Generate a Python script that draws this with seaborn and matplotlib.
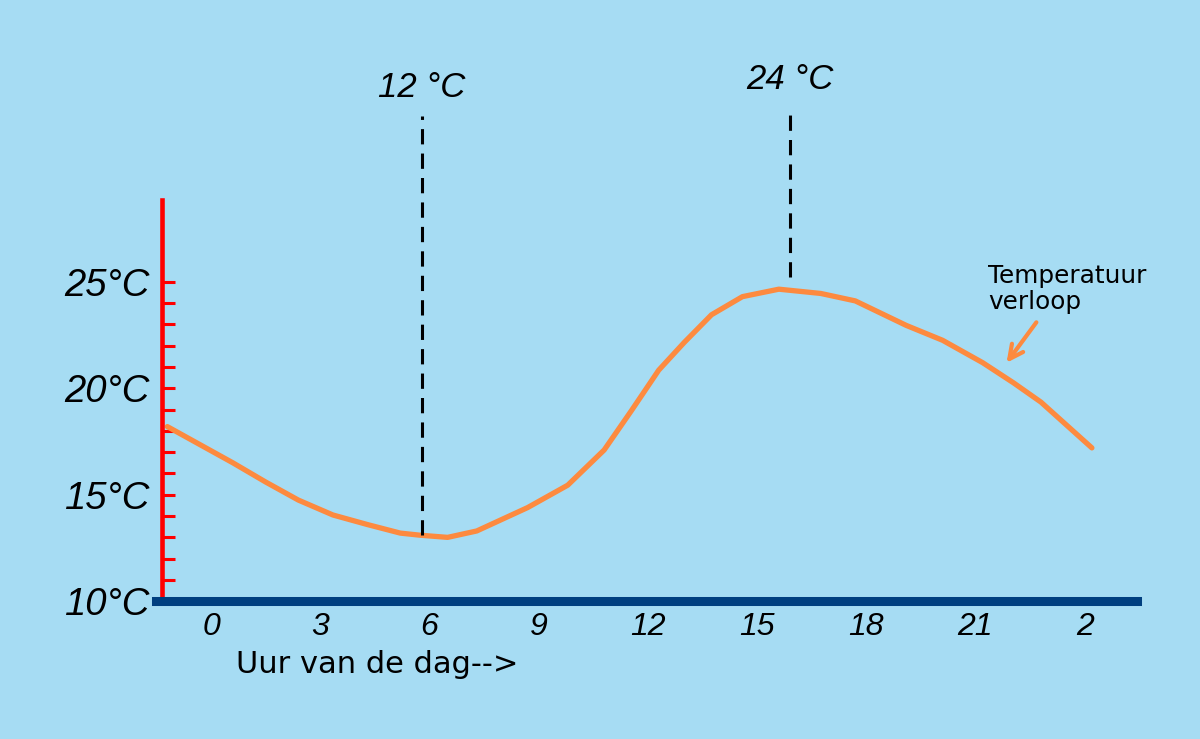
import matplotlib
matplotlib.use("Agg")
import matplotlib.pyplot as plt
import seaborn as sns

# hand drawn temperature curve (hour of day, degrees C)
hours = [-1.2, -0.3, 0.6, 1.5, 2.4, 3.35, 4.3, 5.2, 5.75, 6.5, 7.3, 8.7, 9.8,
         10.8, 11.55, 12.3, 13.0, 13.75, 14.6, 15.6, 16.75, 17.7, 19.1,
         20.1, 21.2, 22.05, 22.8, 24.2]
temps = [18.2, 17.35, 16.5, 15.6, 14.75, 14.05, 13.6, 13.2, 13.1, 13.0, 13.3, 14.4, 15.45,
         17.1, 18.95, 20.85, 22.15, 23.45, 24.3, 24.65, 24.45, 24.1, 22.95,
         22.25, 21.2, 20.25, 19.35, 17.2]

x_ticks = [0, 3, 6, 9, 12, 15, 18, 21, 24]
x_labels = ["0", "3", "6", "9", "12", "15", "18", "21", "2"]
y_ticks = [10, 15, 20, 25]
y_labels = ["10°C", "15°C", "20°C", "25°C"]
y_minor = list(range(11, 26))

# dashed marker lines: hour, bottom, top, label
dash_hours = [5.8, 15.9]
dash_bottoms = [13.1, 25.2]
dash_tops = [32.8, 33.2]
dash_labels = ["12 °C", "24 °C"]

bg = "#a6dcf3"
orange = "#fd8a3f"
navy = "#003f7f"

sns.set_style("white")
plt.rcParams['font.family'] = ['Liberation Sans', 'DejaVu Sans']
plt.rcParams['text.color'] = 'black'
plt.rcParams['xtick.color'] = 'black'
plt.rcParams['ytick.color'] = 'black'

fig = plt.figure(figsize=(12, 7.39), dpi=100)
fig.patch.set_facecolor(bg)
ax = fig.add_axes([0, 0, 1, 1])
ax.set_facecolor(bg)
ax.set_xlim(-5.797, 27.17)
ax.set_ylim(3.535, 38.225)

sns.lineplot(x=hours, y=temps, color=orange, lw=3.8, sort=False, ax=ax,
             solid_capstyle="round", solid_joinstyle="round")

ax.vlines(dash_hours, dash_bottoms, dash_tops, colors="black",
          linestyles=(0, (5, 3)), lw=2.2)
for h, top, lab in zip(dash_hours, dash_tops, dash_labels):
    ax.annotate(lab, (h, top), xytext=(0, 8), textcoords="offset points",
                ha="center", va="bottom", fontsize=25, fontstyle="italic")

# axes drawn like the hand made ones
for side in ["top", "right"]:
    ax.spines[side].set_visible(False)
ax.spines["left"].set_position(("data", -1.35))
ax.spines["left"].set_bounds(10, 28.85)
ax.spines["left"].set_color("red")
ax.spines["left"].set_linewidth(3.3)
ax.spines["bottom"].set_position(("data", 10))
ax.spines["bottom"].set_bounds(-1.51, 25.44)
ax.spines["bottom"].set_color(navy)
ax.spines["bottom"].set_linewidth(6.5)

ax.set_xticks(x_ticks, x_labels, fontstyle="italic")
ax.set_yticks(y_ticks, y_labels, fontstyle="italic")
ax.set_yticks(y_minor, minor=True)
ax.yaxis.remove_overlapping_locs = False
ax.tick_params(axis="y", which="major", left=True, length=0, pad=9, labelsize=27.5)
ax.tick_params(axis="y", which="minor", left=True, length=9, width=2.2, color="red",
               direction="in")
ax.tick_params(axis="x", which="major", bottom=True, length=0, pad=8, labelsize=23)

ax.text(0.69, 6.63, "Uur van de dag-->", fontsize=22, family="DejaVu Sans",
        ha="left", va="baseline")

ax.text(21.35, 25.83, "Temperatuur\nverloop", fontsize=17.8, family="DejaVu Sans",
        ha="left", va="top", linespacing=1.1)
ax.annotate("", xy=(21.81, 21.09), xytext=(22.72, 23.2),
            arrowprops=dict(arrowstyle="->", color=orange, lw=3, mutation_scale=25))

plt.savefig("out.png", dpi=100, facecolor=bg)
